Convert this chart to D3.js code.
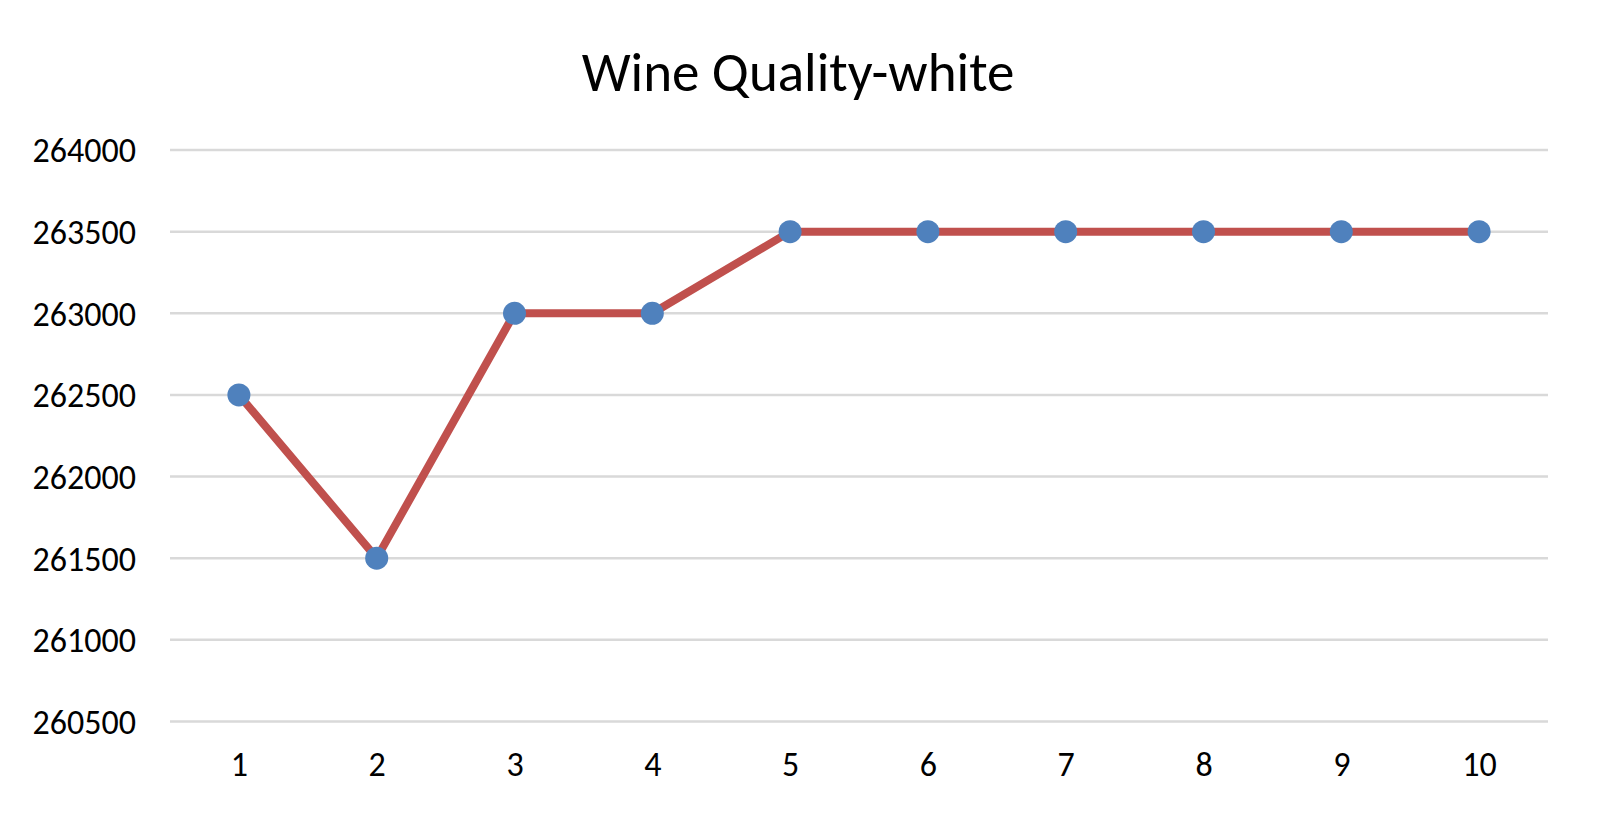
<!DOCTYPE html>
<html>
<head>
<meta charset="utf-8">
<script src="https://cdn.jsdelivr.net/npm/d3@7"></script>
<style>
  html, body { margin: 0; padding: 0; background: #ffffff; }
  svg { display: block; }
  text { font-family: Carlito, Lato, "Open Sans", sans-serif; fill: #000; }
</style>
</head>
<body>
<svg id="chart" width="1600" height="822"></svg>
<script>
const title = "Wine Quality-white";
const categories = ["1", "2", "3", "4", "5", "6", "7", "8", "9", "10"];
const values = [262500, 261500, 263000, 263000, 263500, 263500, 263500, 263500, 263500, 263500];
const yTicks = [260500, 261000, 261500, 262000, 262500, 263000, 263500, 264000];

(function () {
const svg = d3.select("#chart");
const plotLeft = 170, plotRight = 1548, plotTop = 150, plotBottom = 721.4;

const x = d3.scalePoint().domain(categories).range([plotLeft, plotRight]).padding(0.5);
const y = d3.scaleLinear().domain([260500, 264000]).range([plotBottom, plotTop]);

// gridlines
svg.append("g")
  .selectAll("line")
  .data(yTicks)
  .join("line")
  .attr("x1", plotLeft).attr("x2", plotRight)
  .attr("y1", d => y(d)).attr("y2", d => y(d))
  .attr("stroke", "#D9D9D9").attr("stroke-width", 2.5);

// y axis labels
const yAxis = d3.axisLeft(y).tickValues(yTicks).tickSize(0).tickPadding(0).tickFormat(d3.format("d"));
const gy = svg.append("g").attr("transform", "translate(136,1)").call(yAxis);
gy.select(".domain").remove();
gy.selectAll("text").attr("font-size", 34).attr("font-family", "Carlito, Lato, sans-serif").attr("fill", "#000");

// x axis labels
const xAxis = d3.axisBottom(x).tickSize(0).tickPadding(0);
const gx = svg.append("g").attr("transform", "translate(0,752)").call(xAxis);
gx.select(".domain").remove();
gx.selectAll("text").attr("font-size", 34).attr("font-family", "Carlito, Lato, sans-serif").attr("fill", "#000");

// line
const line = d3.line().x((d, i) => x(categories[i])).y(d => y(d));
svg.append("path")
  .datum(values)
  .attr("d", line)
  .attr("fill", "none")
  .attr("stroke", "#C0504D")
  .attr("stroke-width", 8)
  .attr("stroke-linejoin", "round");

// markers
svg.append("g")
  .selectAll("circle")
  .data(values)
  .join("circle")
  .attr("cx", (d, i) => x(categories[i]))
  .attr("cy", d => y(d))
  .attr("r", 11.5)
  .attr("fill", "#4F81BD");

// title
svg.append("text")
  .attr("x", 798).attr("y", 91)
  .attr("text-anchor", "middle")
  .attr("font-size", 55)
  .text(title);
})();
</script>
</body>
</html>
